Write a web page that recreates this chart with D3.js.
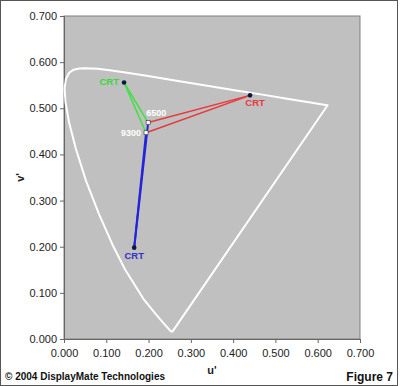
<!DOCTYPE html>
<html>
<head>
  <meta charset="utf-8">
  <title>Figure 7</title>
  <script src="https://d3js.org/d3.v7.min.js"></script>
  <style>
    body { margin: 0; background: white; }
    svg text { font-family: Arial, "Liberation Sans", sans-serif; }
  </style>
</head>
<body>
<script>
  // spectral locus (u', v'), 380..700 nm
  const locusU = [0.2568, 0.2557, 0.2522, 0.2347, 0.2161, 0.1877, 0.1441, 0.1147, 0.0828, 0.0521, 0.0282,
    0.0119, 0.0035, 0.0014, 0.0046, 0.0123, 0.0231, 0.0360, 0.0501, 0.0792, 0.1127, 0.1531, 0.2026,
    0.2623, 0.3315, 0.4035, 0.4692, 0.5203, 0.5565, 0.5830, 0.6109, 0.6234];
  const locusV = [0.0165, 0.0159, 0.0169, 0.0350, 0.0549, 0.0871, 0.1510, 0.2044, 0.2708, 0.3427, 0.4117,
    0.4698, 0.5131, 0.5432, 0.5638, 0.5770, 0.5837, 0.5861, 0.5868, 0.5856, 0.5821, 0.5766, 0.5694,
    0.5604, 0.5501, 0.5393, 0.5296, 0.5219, 0.5165, 0.5125, 0.5084, 0.5065];

  const primaryNames = ["red", "green", "blue"];
  const primaryU = [0.440, 0.142, 0.166];
  const primaryV = [0.528, 0.556, 0.198];
  const primaryColors = ["#e8383c", "#40e040", "#2424d8"];
  const labelColors = ["#e8383c", "#38d838", "#3232c8"];

  const whiteNames = ["6500", "9300"];
  const whiteU = [0.199, 0.194];
  const whiteV = [0.469, 0.447];

  const xTicks = [0, 0.1, 0.2, 0.3, 0.4, 0.5, 0.6, 0.7];
  const yTicks = [0, 0.1, 0.2, 0.3, 0.4, 0.5, 0.6, 0.7];

  const width = 400, height = 386;
  const margin = { top: 16, right: 40, bottom: 47, left: 64 };

  const svg = d3.select("body").append("svg")
    .attr("width", width)
    .attr("height", height);

  // outer frame
  svg.append("rect")
    .attr("x", 0.5).attr("y", 0.5)
    .attr("width", 397).attr("height", 385)
    .attr("fill", "white")
    .attr("stroke", "#555");

  const xScale = d3.scaleLinear().domain([0, 0.7]).range([margin.left, width - margin.right]);
  const yScale = d3.scaleLinear().domain([0, 0.7]).range([height - margin.bottom, margin.top]);

  // plot area
  svg.append("rect")
    .attr("x", xScale(0)).attr("y", yScale(0.7))
    .attr("width", xScale(0.7) - xScale(0))
    .attr("height", yScale(0) - yScale(0.7))
    .attr("fill", "#c0c0c0")
    .attr("stroke", "#808080");

  // axes
  const fmt = d3.format(".3f");
  const xAxisG = svg.append("g")
    .attr("transform", `translate(0, ${yScale(0)})`)
    .call(d3.axisBottom(xScale).tickValues(xTicks).tickFormat(fmt).tickSize(4).tickPadding(6));
  const yAxisG = svg.append("g")
    .attr("transform", `translate(${xScale(0)}, 0)`)
    .call(d3.axisLeft(yScale).tickValues(yTicks).tickFormat(fmt).tickSize(4).tickPadding(3));
  [xAxisG, yAxisG].forEach(g => {
    g.select(".domain").attr("stroke", "#666");
    g.selectAll(".tick line").attr("stroke", "#666");
    g.selectAll(".tick text")
      .attr("font-size", 11)
      .attr("font-family", "Arial, 'Liberation Sans', sans-serif")
      .attr("fill", "#222");
  });

  // spectral locus, closed by purple line
  const locus = locusU.map((u, i) => [u, locusV[i]]);
  svg.append("path")
    .datum(locus)
    .attr("d", d3.line().x(d => xScale(d[0])).y(d => yScale(d[1])).curve(d3.curveLinearClosed))
    .attr("fill", "none")
    .attr("stroke", "white")
    .attr("stroke-width", 2)
    .attr("stroke-linejoin", "round");

  // lines from each primary to both white points
  const segs = [];
  primaryNames.forEach((p, i) => {
    whiteNames.forEach((w, j) => {
      segs.push({ x1: primaryU[i], y1: primaryV[i], x2: whiteU[j], y2: whiteV[j], color: primaryColors[i], name: p });
    });
  });
  svg.append("g").selectAll("line")
    .data(segs)
    .join("line")
    .attr("x1", d => xScale(d.x1)).attr("y1", d => yScale(d.y1))
    .attr("x2", d => xScale(d.x2)).attr("y2", d => yScale(d.y2))
    .attr("stroke", d => d.color)
    .attr("stroke-width", d => d.name === "blue" ? 2 : 1.5);

  // primary markers
  svg.append("g").selectAll("circle")
    .data(primaryNames)
    .join("circle")
    .attr("cx", (d, i) => xScale(primaryU[i]))
    .attr("cy", (d, i) => yScale(primaryV[i]))
    .attr("r", 2.3)
    .attr("fill", "#0a1a3a");

  // white point markers
  svg.append("g").selectAll("rect")
    .data(whiteNames)
    .join("rect")
    .attr("x", (d, i) => xScale(whiteU[i]) - 2)
    .attr("y", (d, i) => yScale(whiteV[i]) - 2)
    .attr("width", 4).attr("height", 4)
    .attr("fill", "white")
    .attr("stroke", "#334")
    .attr("stroke-width", 0.6);

  // labels
  const crtOffsets = [[5, 11, "middle"], [-5, 3, "end"], [0, 11, "middle"]];
  primaryNames.forEach((p, i) => {
    svg.append("text")
      .attr("x", xScale(primaryU[i]) + crtOffsets[i][0])
      .attr("y", yScale(primaryV[i]) + crtOffsets[i][1])
      .attr("text-anchor", crtOffsets[i][2])
      .attr("font-size", 9.5)
      .attr("font-weight", "bold")
      .attr("fill", labelColors[i])
      .text("CRT");
  });
  const wOffsets = [[-2, -7, "start"], [-5, 3.5, "end"]];
  whiteNames.forEach((w, i) => {
    svg.append("text")
      .attr("x", xScale(whiteU[i]) + wOffsets[i][0])
      .attr("y", yScale(whiteV[i]) + wOffsets[i][1])
      .attr("text-anchor", wOffsets[i][2])
      .attr("font-size", 9)
      .attr("font-weight", "bold")
      .attr("fill", "white")
      .text(w);
  });

  // axis titles
  svg.append("text")
    .attr("x", xScale(0.35)).attr("y", 374)
    .attr("text-anchor", "middle")
    .attr("font-size", 11).attr("font-weight", "bold")
    .attr("fill", "#222")
    .text("u'");
  svg.append("text")
    .attr("transform", `translate(24, ${yScale(0.35)}) rotate(-90)`)
    .attr("text-anchor", "middle")
    .attr("font-size", 11).attr("font-weight", "bold")
    .attr("fill", "#222")
    .text("v'");

  // footer
  svg.append("text")
    .attr("x", 5).attr("y", 380)
    .attr("font-size", 10).attr("font-weight", "bold")
    .attr("fill", "#111")
    .text("© 2004 DisplayMate Technologies");
  svg.append("text")
    .attr("x", 393).attr("y", 381)
    .attr("text-anchor", "end")
    .attr("font-size", 12).attr("font-weight", "bold")
    .attr("fill", "#111")
    .text("Figure 7");
</script>
</body>
</html>
